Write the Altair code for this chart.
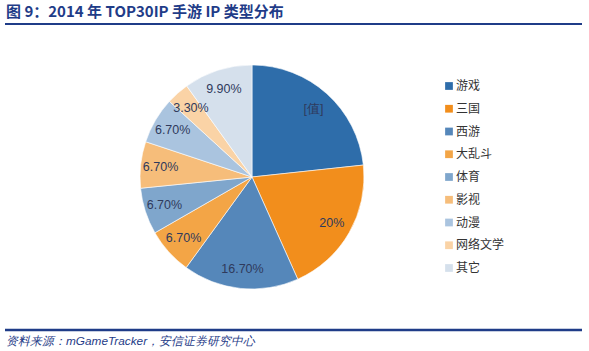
import altair as alt
import pandas as pd

cats = ["游戏", "三国", "西游", "大乱斗", "体育", "影视", "动漫", "网络文学", "其它"]
shares = [23.3, 20.0, 16.7, 6.7, 6.7, 6.7, 6.7, 3.3, 9.9]
labels = ["[值]", "20%", "16.70%", "6.70%", "6.70%", "6.70%", "6.70%", "3.30%", "9.90%"]
colors = ["#2E6DAA", "#F28E1C", "#5587BA", "#F3A546", "#7FA6CC",
          "#F6BD7A", "#AAC4DF", "#FAD3A6", "#D5E0EC"]

title_text = "图 9：2014 年 TOP30IP 手游 IP 类型分布"
source_text = "资料来源：mGameTracker，安信证券研究中心"

df = pd.DataFrame({"cat": cats, "share": shares, "label": labels,
                   "idx": list(range(len(cats)))})

W, H = 589, 351
CX, CY, R = 252, 177, 112
NAVY = "#1F3C88"

color_scale = alt.Scale(domain=cats, range=colors)

base = alt.Chart(df).encode(
    theta=alt.Theta("share:Q", stack=True),
    order=alt.Order("idx:Q"),
)

pie = base.mark_arc(outerRadius=R, stroke="white", strokeWidth=0.6).encode(
    color=alt.Color("cat:N", scale=color_scale, legend=None),
    x=alt.value(CX), y=alt.value(CY),
)

pie_labels = base.mark_text(radius=92, font="Liberation Sans", fontSize=12.5,
                            color="#2F3A5C").encode(
    text="label:N",
    x=alt.value(CX), y=alt.value(CY),
)

legend_y = alt.Y("cat:N", scale=alt.Scale(type="point", domain=cats, range=[86, 268], padding=0), axis=None)

legend_sq = alt.Chart(df).mark_square(size=60, opacity=1).encode(
    x=alt.value(449),
    y=legend_y,
    color=alt.Color("cat:N", scale=color_scale, legend=None),
)

legend_txt = alt.Chart(df).mark_text(align="left", baseline="middle",
                                     font="Noto Sans CJK SC", fontSize=12,
                                     color="#333333").encode(
    x=alt.value(456),
    y=legend_y,
    text="cat:N",
)

one = pd.DataFrame({"t": [title_text], "s": [source_text]})

title = alt.Chart(one).mark_text(align="left", baseline="middle",
                                 font="Noto Sans CJK SC", fontSize=15,
                                 fontWeight="bold", color=NAVY).encode(
    x=alt.value(6), y=alt.value(12), text="t:N")

source = alt.Chart(one).mark_text(align="left", baseline="middle",
                                  font="Liberation Sans", fontSize=11.8,
                                  fontStyle="italic", color=NAVY).encode(
    x=alt.value(6), y=alt.value(341), text="s:N")

top_line = alt.Chart(one).mark_rule(color=NAVY, strokeWidth=2).encode(
    x=alt.value(5), x2=alt.value(582), y=alt.value(24))
bottom_line = alt.Chart(one).mark_rule(color=NAVY, strokeWidth=2.5).encode(
    x=alt.value(5), x2=alt.value(582), y=alt.value(330))

chart = alt.layer(pie, pie_labels, legend_sq, legend_txt, title, source,
                  top_line, bottom_line).properties(
    width=W, height=H, padding=0,
    autosize=alt.AutoSizeParams(type="none"),
    background="white",
).configure_view(stroke=None)

chart.save("out.html", embed_options={"renderer": "svg", "actions": False})
